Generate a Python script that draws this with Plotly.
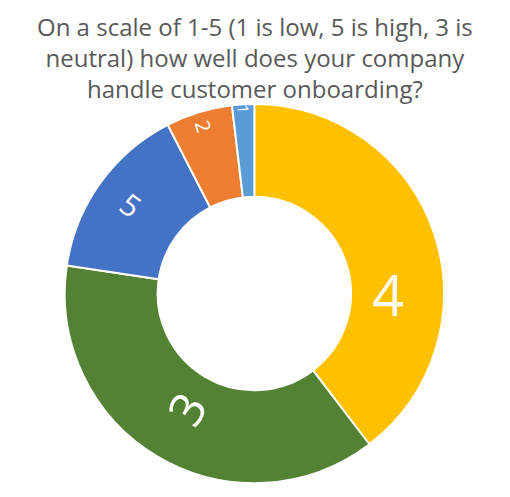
import plotly.graph_objects as go

ratings = ["4", "3", "5", "2", "1"]
responses = [21, 20, 8, 3, 1]
slice_colors = ["#FFC000", "#548235", "#4472C4", "#ED7D31", "#5B9BD5"]
label_sizes = [56, 48, 30, 20, 17]

title = ("On a scale of 1-5 (1 is low, 5 is high, 3 is<br>"
         "neutral) how well does your company<br>"
         "handle customer onboarding?")

fig = go.Figure()
fig.add_trace(go.Pie(
    labels=ratings,
    values=responses,
    hole=0.51,
    sort=False,
    direction="clockwise",
    rotation=0,
    marker=dict(colors=slice_colors, line=dict(color="white", width=2)),
    textinfo="label",
    textposition="inside",
    insidetextorientation="radial",
    textfont=dict(color="white", size=label_sizes, family="Open Sans"),
    # page body adds an 8px offset, domain compensates for it
    domain=dict(x=[0.109, 0.857], y=[0.044, 0.807]),
    showlegend=False,
    hoverinfo="label+value+percent",
))

fig.add_annotation(
    text=title, xref="paper", yref="paper", x=0.484, y=1.0,
    xanchor="center", yanchor="top", showarrow=False, align="center",
    font=dict(family="Open Sans", size=24, color="#595959"),
)

fig.update_layout(
    width=510, height=497,
    margin=dict(l=0, r=0, t=0, b=0),
    paper_bgcolor="white",
)

fig.write_html("out.html")
